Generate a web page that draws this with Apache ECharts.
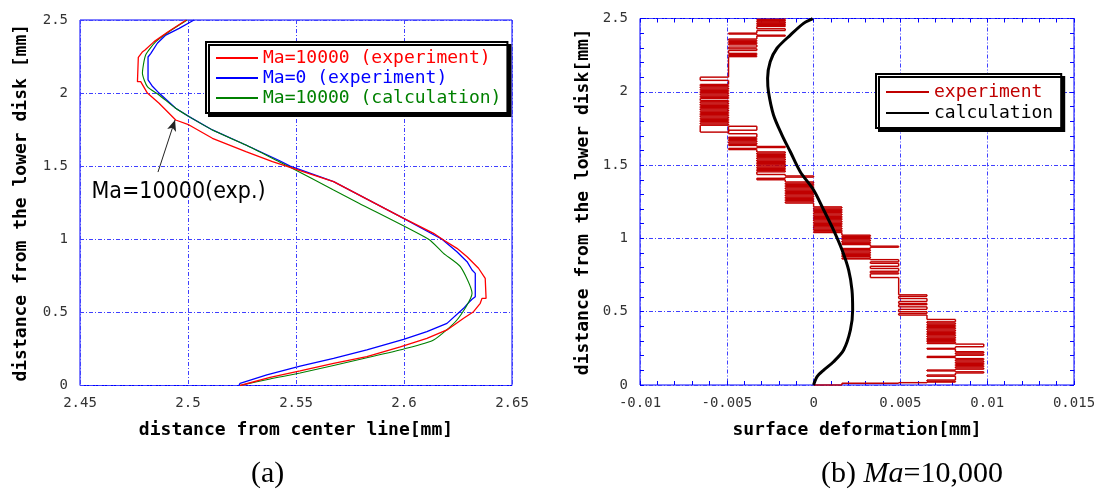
<!DOCTYPE html>
<html><head><meta charset="utf-8">
<script src="https://cdn.jsdelivr.net/npm/echarts@6/dist/echarts.min.js"></script>
<style>html,body{margin:0;padding:0;background:#fff}#c{width:1099px;height:489px}</style>
</head><body><div id="c"></div>
<script>
// ---------- (a) left chart data: [distance from center line, height] ----------
const ma10000Exp = [[2.4992,2.500],[2.4908,2.420],[2.4843,2.352],[2.4801,2.295],[2.4790,2.283],[2.4770,2.245],[2.4766,2.245],[2.4766,2.078],[2.4781,2.078],[2.4812,2.000],[2.4866,1.930],[2.4943,1.816],[2.5005,1.782],[2.5113,1.691],[2.5268,1.599],[2.5391,1.531],[2.5455,1.500],[2.5674,1.394],[2.5983,1.155],[2.6137,1.041],[2.6183,0.995],[2.6245,0.938],[2.6292,0.881],[2.6345,0.802],[2.6376,0.733],[2.6380,0.733],[2.6380,0.596],[2.6361,0.596],[2.6353,0.562],[2.6322,0.505],[2.6276,0.460],[2.6199,0.380],[2.6106,0.323],[2.5983,0.265],[2.5828,0.197],[2.5674,0.152],[2.5519,0.100],[2.5380,0.056],[2.5241,0.000]];
const ma0Exp = [[2.5028,2.500],[2.4959,2.443],[2.4897,2.397],[2.4858,2.341],[2.4828,2.272],[2.4815,2.247],[2.4815,2.090],[2.4834,2.049],[2.4866,2.000],[2.4943,1.896],[2.5005,1.839],[2.5113,1.748],[2.5268,1.645],[2.5422,1.539],[2.5473,1.500],[2.5674,1.394],[2.5983,1.155],[2.6176,1.000],[2.6245,0.915],[2.6292,0.847],[2.6315,0.790],[2.6330,0.767],[2.6330,0.607],[2.6315,0.590],[2.6295,0.560],[2.6276,0.528],[2.6199,0.425],[2.6106,0.368],[2.5998,0.316],[2.5828,0.243],[2.5674,0.186],[2.5519,0.132],[2.5365,0.072],[2.5241,0.015],[2.5236,0.000]];
const ma10000Calc = [[2.4996,2.500],[2.4912,2.420],[2.4851,2.352],[2.4804,2.261],[2.4789,2.135],[2.4812,2.044],[2.4866,1.987],[2.4943,1.896],[2.5005,1.839],[2.5113,1.748],[2.5268,1.645],[2.5422,1.531],[2.5464,1.500],[2.5674,1.337],[2.5789,1.248],[2.6114,1.000],[2.6183,0.904],[2.6261,0.813],[2.6315,0.631],[2.6245,0.448],[2.6137,0.311],[2.6000,0.250],[2.5828,0.190],[2.5519,0.085],[2.5380,0.045],[2.5241,0.000]];
const annotArrow = [[2.4861,1.460],[2.4940,1.816]];
const annotText = [2.4956,1.3235];

// ---------- (b) right chart data ----------
const calcDeform = [[0,0],[0.0002,0.057],[0.00058,0.102],[0.00115,0.159],[0.00173,0.239],[0.00212,0.375],[0.00225,0.512],[0.00221,0.648],[0.00202,0.784],[0.00164,0.921],[0.00115,1.057],[0.00058,1.194],[0.0,1.330],[-0.00077,1.455],[-0.00134,1.591],[-0.00182,1.705],[-0.00231,1.842],[-0.0026,2.0],[-0.00265,2.092],[-0.0025,2.205],[-0.00211,2.297],[-0.00134,2.387],[-0.00058,2.467],[-0.0001,2.496],[-0.00005,2.5]];
// measured deformation levels (level -4 ... 6)
const deformLevels = [-0.00653,-0.0049,-0.00327,-0.00163,0,0.00163,0.00327,0.0049,0.00653,0.00817,0.0098];
const expStart = [-1, 2.5];
// [levelA, levelB, heights of horizontal trace segments]
const expBands = [
 [-2,-1,[2.494,2.488,2.482,2.476,2.470,2.464,2.458,2.452,2.446,2.430,2.418]],
 [-3,-2,[2.400,2.394]],
 [-2,-1,[2.386,2.380]],
 [-3,-2,[2.360,2.352,2.344,2.336,2.328,2.320,2.305,2.293,2.282,2.262,2.254,2.246,2.240]],
 [-4,-3,[2.100,2.078,2.050,2.042,2.034,2.026,2.018,2.010,2.002,1.994,1.986,1.978,1.970,1.962,1.954,1.940,1.932,1.924,1.916,1.908,1.900,1.892,1.884,1.876,1.868,1.860,1.852,1.844,1.836,1.828,1.820,1.812,1.804,1.796,1.788,1.780,1.772,1.725]],
 [-3,-2,[1.765,1.738,1.714,1.690,1.682,1.674,1.666,1.658,1.650,1.642,1.634]],
 [-2,-1,[1.627,1.620]],
 [-3,-2,[1.614,1.606]],
 [-2,-1,[1.590,1.582,1.574,1.566,1.558,1.550,1.542,1.534,1.526,1.518,1.510,1.502,1.494,1.486,1.478,1.470,1.462,1.454,1.436]],
 [-1,0,[1.426,1.418]],
 [-2,-1,[1.410,1.400]],
 [-1,0,[1.385,1.377,1.369,1.361,1.353,1.345,1.337,1.329,1.321,1.313,1.305,1.297,1.289,1.281,1.273,1.265,1.257,1.249,1.241]],
 [0,1,[1.215,1.207,1.199,1.191,1.183,1.175,1.167,1.159,1.151,1.143,1.135,1.127,1.119,1.111,1.103,1.095,1.087,1.079,1.071,1.063,1.055,1.045,1.040]],
 [1,2,[1.022,1.014,1.006,0.998,0.990,0.982,0.974,0.966,0.958]],
 [2,3,[0.947,0.940]],
 [1,2,[0.931,0.923,0.915,0.907,0.899,0.891,0.883,0.875,0.865,0.860]],
 [2,3,[0.855,0.840,0.830,0.810,0.795,0.776,0.765,0.758,0.733]],
 [3,4,[0.615,0.605,0.590,0.570,0.556,0.548,0.533,0.516,0.500,0.488,0.477]],
 [4,5,[0.447,0.431,0.423,0.415,0.407,0.399,0.391,0.383,0.375,0.367,0.359,0.351,0.343,0.335,0.327,0.319,0.311,0.303,0.295,0.287,0.283]],
 [5,6,[0.279,0.261]],
 [4,5,[0.250,0.245]],
 [5,6,[0.227,0.219,0.211,0.203]],
 [4,5,[0.195,0.188]],
 [5,6,[0.180,0.172,0.164,0.156,0.148,0.140,0.132,0.124,0.116,0.108]],
 [4,5,[0.102,0.096]],
 [5,6,[0.090,0.082]],
 [4,5,[0.068,0.060,0.034,0.026,0.020]],
 [3,4,[0.016]],
 [1,3,[0.012]],
 [0,1,[0.000]]
];
const xTicksA = {min:2.45,max:2.65,interval:0.05};
const xTicksB = {min:-0.01,max:0.015,interval:0.005};
const yTicks = {min:0,max:2.5,interval:0.5};

function L(k){ return deformLevels[k+4]; }
function buildTrace(){
  let pen = expStart[0];
  const pts = [[L(pen), expStart[1]]];
  for (const [a,b,ys] of expBands){
    for (const y of ys){
      pts.push([L(pen), y]);
      let next = pen===a ? b : (pen===b ? a : (Math.abs(a-pen)>Math.abs(b-pen) ? a : b));
      pts.push([L(next), y]);
      pen = next;
    }
  }
  return pts;
}
// split the trace into individual segments (so very short steps are not merged away)
const expTrace = buildTrace();
const expSegs = [];
for (let i = 1; i < expTrace.length; i++){
  const p = expTrace[i-1], q = expTrace[i];
  if (p[0] === q[0] && p[1] === q[1]) continue;
  expSegs.push([p[0], p[1], q[0], q[1]]);
}

const MONO = 'DejaVu Sans Mono';
const BLUE = '#0000ff';
const EXPRED = '#c00000';
const fmt = v => String(parseFloat((+v).toFixed(4)));
const gridLine = {show:true, lineStyle:{color:'#4040ff', width:1, type:[4,2,1,2]}};
const tickLabel = {color:'#333', fontFamily:MONO, fontSize:14, formatter:fmt};
const nameStyle = {color:'#000', fontFamily:MONO, fontSize:18, fontWeight:'bold'};
const blueTick = {show:true, inside:true, length:4, lineStyle:{color:BLUE}};
const blueMinor = {show:true, splitNumber:5, length:4, lineStyle:{color:BLUE}};
const noLine = {show:false, onZero:false};

const chart = echarts.init(document.getElementById('c'), null, {renderer:'canvas'});
chart.setOption({
  animation:false,
  backgroundColor:'#fff',
  title:[
    {text:'(a)', left:251, top:459, padding:0, textStyle:{fontFamily:'Liberation Serif', fontSize:30, fontWeight:'normal', color:'#000'}},
    {text:'(b) {i|Ma}=10,000', left:821, top:459, padding:0, textStyle:{fontFamily:'Liberation Serif', fontSize:30, fontWeight:'normal', color:'#000',
      rich:{i:{fontFamily:'Liberation Serif', fontSize:30, fontStyle:'italic', color:'#000'}}}}
  ],
  grid:[
    {left:80, top:20, width:432, height:365.5, show:true, borderColor:BLUE, borderWidth:1},
    {left:640, top:18.5, width:434, height:366.5, show:true, borderColor:BLUE, borderWidth:1}
  ],
  legend:[
    {orient:'vertical', left:206, top:42, padding:[7,6,6,9], itemGap:2, itemWidth:42, itemHeight:14,
     backgroundColor:'#fff', borderColor:'#000', borderWidth:2, shadowColor:'#000', shadowOffsetX:3, shadowOffsetY:3, shadowBlur:0,
     itemStyle:{opacity:0},
     textStyle:{fontFamily:MONO, fontSize:18, lineHeight:18},
     data:[{name:'Ma=10000 (experiment)', textStyle:{color:'#ff0000'}},{name:'Ma=0 (experiment)', textStyle:{color:'#0000ff'}},{name:'Ma=10000 (calculation)', textStyle:{color:'#008000'}}]},
    {orient:'vertical', left:876, top:74, padding:[9,8,6,9], itemGap:3, itemWidth:43, itemHeight:14,
     backgroundColor:'#fff', borderColor:'#000', borderWidth:2, shadowColor:'#000', shadowOffsetX:3, shadowOffsetY:3, shadowBlur:0,
     itemStyle:{opacity:0},
     textStyle:{fontFamily:MONO, fontSize:18, lineHeight:18},
     data:[{name:'experiment', textStyle:{color:EXPRED}},{name:'calculation', textStyle:{color:'#000'}}]}
  ],
  xAxis:[
    {gridIndex:0, type:'value', min:xTicksA.min, max:xTicksA.max, interval:xTicksA.interval, position:'bottom',
     axisLine:noLine, axisTick:{show:false}, axisLabel:Object.assign({margin:11}, tickLabel), splitLine:gridLine,
     name:'distance from center line[mm]', nameLocation:'middle', nameGap:36, nameTextStyle:nameStyle},
    {gridIndex:1, type:'value', min:xTicksB.min, max:xTicksB.max, interval:xTicksB.interval, position:'bottom',
     axisLine:noLine, axisTick:blueTick, minorTick:blueMinor, axisLabel:Object.assign({margin:11}, tickLabel), splitLine:gridLine,
     name:'surface deformation[mm]', nameLocation:'middle', nameGap:36, nameTextStyle:nameStyle},
    {gridIndex:1, type:'value', min:xTicksB.min, max:xTicksB.max, interval:xTicksB.interval, position:'top',
     axisLine:noLine, axisTick:blueTick, minorTick:blueMinor, axisLabel:{show:false}, splitLine:{show:false}}
  ],
  yAxis:[
    {gridIndex:0, type:'value', min:yTicks.min, max:yTicks.max, interval:yTicks.interval, position:'left',
     axisLine:noLine, axisTick:{show:false}, axisLabel:Object.assign({margin:12}, tickLabel), splitLine:gridLine,
     name:'distance from the lower disk [mm]', nameLocation:'middle', nameRotate:90, nameGap:50, nameTextStyle:nameStyle},
    {gridIndex:1, type:'value', min:yTicks.min, max:yTicks.max, interval:yTicks.interval, position:'left',
     axisLine:noLine, axisTick:blueTick, minorTick:blueMinor, axisLabel:Object.assign({margin:12}, tickLabel), splitLine:gridLine,
     name:'distance from the lower disk[mm]', nameLocation:'middle', nameRotate:90, nameGap:48, nameTextStyle:nameStyle},
    {gridIndex:1, type:'value', min:yTicks.min, max:yTicks.max, interval:yTicks.interval, position:'right',
     axisLine:noLine, axisTick:blueTick, minorTick:blueMinor, axisLabel:{show:false}, splitLine:{show:false}}
  ],
  series:[
    {name:'Ma=0 (experiment)', type:'line', xAxisIndex:0, yAxisIndex:0, data:ma0Exp, symbol:'none', color:'#0000ff', lineStyle:{width:1.3, color:'#0000ff'}, z:3},
    {name:'Ma=10000 (calculation)', type:'line', xAxisIndex:0, yAxisIndex:0, data:ma10000Calc, symbol:'none', smooth:0.2, color:'#008000', lineStyle:{width:1.1, color:'#008000'}, z:3},
    {name:'Ma=10000 (experiment)', type:'line', xAxisIndex:0, yAxisIndex:0, data:ma10000Exp, symbol:'none', color:'#ff0000', lineStyle:{width:1.3, color:'#ff0000'}, z:3,
     markLine:{silent:true, symbol:['none','arrow'], symbolSize:[7,11], animation:false, label:{show:false},
       lineStyle:{color:'#222', width:1, type:'solid'},
       data:[[{coord:annotArrow[0]},{coord:annotArrow[1]}]]},
     markPoint:{silent:true, symbol:'circle', symbolSize:1, itemStyle:{color:'rgba(0,0,0,0)'},
       label:{show:true, position:'inside', formatter:'Ma=10000(exp.)', color:'#000', fontFamily:"'Liberation Sans Narrow','DejaVu Sans Condensed',sans-serif", fontSize:23},
       data:[{coord:annotText}]}},
    // legend entry (line icon) for the experiment trace
    {name:'experiment', type:'line', xAxisIndex:1, yAxisIndex:1, data:[], symbol:'none', color:EXPRED, lineStyle:{width:1.2, color:EXPRED}},
    {name:'experiment', type:'custom', xAxisIndex:1, yAxisIndex:1, data:expSegs, encode:{x:[0,2], y:[1,3]}, silent:true, z:3, color:EXPRED,
     renderItem:function(params, api){
       const a = api.coord([api.value(0), api.value(1)]);
       const b = api.coord([api.value(2), api.value(3)]);
       return {type:'line', shape:{x1:a[0], y1:a[1], x2:b[0], y2:b[1]}, style:{stroke:EXPRED, lineWidth:1.45, fill:null}};
     }},
    {name:'calculation', type:'line', xAxisIndex:1, yAxisIndex:1, data:calcDeform, symbol:'none', smooth:0.3, color:'#000', lineStyle:{width:3, color:'#000'}, z:4}
  ]
});
</script></body></html>
